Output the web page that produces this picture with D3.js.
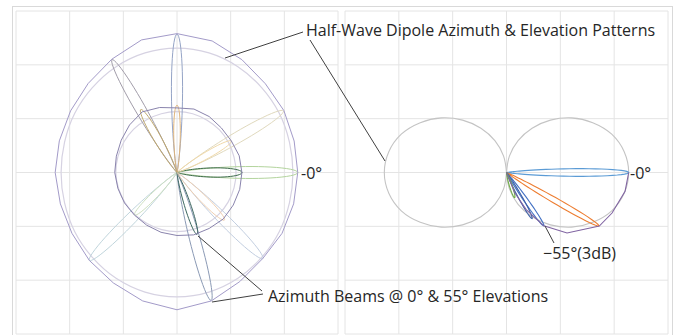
<!DOCTYPE html>
<html>
<head>
<meta charset="utf-8">
<script src="https://cdn.jsdelivr.net/npm/d3@7"></script>
<style>
  body { margin: 0; background: #fff; }
  svg { display: block; }
  text { font-family: "Open Sans", "Noto Sans", sans-serif; font-size: 16px; fill: #262626; }
</style>
</head>
<body>
<svg id="chart" width="681" height="335"></svg>
<script>
// ---------- data (radii in grid units) ----------
const gridTicks = [-3, -2, -1, 0, 1, 2, 3];

// Azimuth patterns, sampled every 15 degrees
const azAngles = [0, 15, 30, 45, 60, 75, 90, 105, 120, 135, 150, 165,
                  180, 195, 210, 225, 240, 255, 270, 285, 300, 315, 330, 345];
const azEnvelope0  = [2.25, 2.26, 2.30, 2.33, 2.42, 2.53, 2.58, 2.55, 2.43, 2.34, 2.29, 2.27,
                      2.27, 2.25, 2.26, 2.31, 2.37, 2.47, 2.55, 2.47, 2.34, 2.26, 2.26, 2.25];
const azDipole0    = [2.16, 2.17, 2.20, 2.23, 2.27, 2.30, 2.31, 2.30, 2.27, 2.23, 2.20, 2.17,
                      2.16, 2.17, 2.20, 2.23, 2.27, 2.30, 2.31, 2.30, 2.27, 2.23, 2.20, 2.17];
const azEnvelope55 = [1.21, 1.20, 1.17, 1.17, 1.20, 1.22, 1.20, 1.25, 1.30, 1.25, 1.20, 1.17,
                      1.16, 1.14, 1.13, 1.12, 1.13, 1.15, 1.17, 1.20, 1.20, 1.22, 1.21, 1.21];
const azDipole55   = [1.10, 1.10, 1.11, 1.12, 1.12, 1.13, 1.13, 1.13, 1.13, 1.14, 1.14, 1.14,
                      1.14, 1.13, 1.12, 1.11, 1.10, 1.10, 1.10, 1.10, 1.10, 1.10, 1.10, 1.10];

// Azimuth beams at 0 deg elevation
const beamAz0    = [0, 30, 90, 120, 225, 285, 315];
const beamLen0   = [2.25, 2.29, 2.57, 2.42, 2.31, 2.46, 2.26];
const beamWidth0 = [11, 10, 9, 9, 10, 9, 10];          // degrees
// Azimuth beams at 55 deg elevation
const beamAz55    = [0, 30, 90, 120, 225, 288, 315];
const beamLen55   = [1.21, 1.17, 1.25, 1.35, 1.12, 1.21, 1.25];
const beamWidth55 = [16, 12, 11, 12, 12, 11, 12];

// Half-wave dipole elevation pattern, 0..90 deg
const elevAngles = [0, 10, 20, 30, 40, 50, 60, 70, 80, 90];
const dipoleElev = [2.27, 2.22, 2.08, 1.85, 1.58, 1.27, 0.95, 0.63, 0.31, 0];

// Elevation beams
const elevBeamDeg   = [0, -30, -55, -61, -72];
const elevBeamLen   = [2.27, 1.98, 1.21, 0.98, 0.49];
const elevBeamWidth = [7, 6, 7, 8, 12];
// Elevation beam envelope
const elevEnvDeg = [0, -9, -21, -30, -45, -55, -62, -68, -90];
const elevEnvLen = [2.27, 2.23, 2.10, 1.99, 1.59, 1.21, 0.78, 0.40, 0];

// ---------- styles ----------
const beamColors0  = ["#b3d49d", "#e0d9bd", "#95a4c6", "#a19ca9", "#c0d5dc", "#8b9ab5", "#c2cee0"];
const beamColors55 = ["#3d6b4a", "#f1d9a9", "#dfb47a", "#bfa86c", "#cde0c1", "#3b665f", "#f0d0b2"];
const elevBeamColors = ["#5b9bd5", "#ed7d31", "#4472c4", "#3c5fa6", "#70ad47"];

const svg = d3.select("#chart");

// outer chart frame
svg.append("rect").attr("x", 12.5).attr("y", 6.5).attr("width", 660).attr("height", 340)
  .attr("fill", "none").attr("stroke", "#d9d9d9");

function makePanel(x0, x1, y0, y1) {
  const x = d3.scaleLinear().domain([-3, 3]).range([x0, x1]);
  const y = d3.scaleLinear().domain([-3, 3]).range([y1, y0]);
  const g = svg.append("g");
  g.selectAll("line.v").data(gridTicks).join("line")
    .attr("x1", d => x(d)).attr("x2", d => x(d)).attr("y1", y0).attr("y2", y1)
    .attr("stroke", "#e4e4e4");
  g.selectAll("line.h").data(gridTicks).join("line")
    .attr("y1", d => y(d)).attr("y2", d => y(d)).attr("x1", x0).attr("x2", x1)
    .attr("stroke", "#e4e4e4");
  return { x, y, g };
}

const rad = d => d * Math.PI / 180;
function polarPoints(angles, radii) {
  return angles.map((a, i) => [radii[i] * Math.cos(rad(a)), radii[i] * Math.sin(rad(a))]);
}
// beam lobe outline: r = L * cos(d)^n, n set from the beam width
function lobePoints(az, len, bw) {
  const h = rad(bw / 2);
  const n = 2 * Math.LN2 / (h * h);
  const pts = [[0, 0]];
  const steps = 80;
  for (let i = 0; i <= steps; i++) {
    const d = -3 * h + 6 * h * i / steps;
    const r = len * Math.pow(Math.cos(d), n);
    pts.push([r * Math.cos(rad(az) + d), r * Math.sin(rad(az) + d)]);
  }
  pts.push([0, 0]);
  return pts;
}

// ---------- left panel: azimuth ----------
const L = makePanel(16, 338, 11, 334);
const lineL = d3.line().x(d => L.x(d[0])).y(d => L.y(d[1]));

L.g.append("path").attr("d", lineL.curve(d3.curveCardinalClosed)(polarPoints(azAngles, azDipole0)))
  .attr("fill", "none").attr("stroke", "#d6d2e2").attr("stroke-width", 1.2);
L.g.append("path").attr("d", lineL.curve(d3.curveCardinalClosed)(polarPoints(azAngles, azDipole55)))
  .attr("fill", "none").attr("stroke", "#d6d2e2").attr("stroke-width", 1.2);

beamAz0.forEach((a, i) => {
  L.g.append("path").attr("d", lineL.curve(d3.curveLinear)(lobePoints(a, beamLen0[i], beamWidth0[i])))
    .attr("fill", "none").attr("stroke", beamColors0[i]).attr("stroke-width", 1);
});
beamAz55.forEach((a, i) => {
  L.g.append("path").attr("d", lineL.curve(d3.curveLinear)(lobePoints(a, beamLen55[i], beamWidth55[i])))
    .attr("fill", "none").attr("stroke", beamColors55[i]).attr("stroke-width", 1);
});

L.g.append("path").attr("d", lineL.curve(d3.curveLinearClosed)(polarPoints(azAngles, azEnvelope0)))
  .attr("fill", "none").attr("stroke", "#a39bc9").attr("stroke-width", 1);
L.g.append("path").attr("d", lineL.curve(d3.curveLinearClosed)(polarPoints(azAngles, azEnvelope55)))
  .attr("fill", "none").attr("stroke", "#8a84ad").attr("stroke-width", 1);

// ---------- right panel: elevation ----------
const R = makePanel(345, 668, 11, 334);
const lineR = d3.line().x(d => R.x(d[0])).y(d => R.y(d[1]));

// full dipole figure-eight from the 0..90 deg quarter (pattern is symmetric)
const rightLobeAng = [], rightLobeR = [], leftLobeAng = [], leftLobeR = [];
for (let i = elevAngles.length - 1; i >= 0; i--) { rightLobeAng.push(-elevAngles[i]); rightLobeR.push(dipoleElev[i]); }
for (let i = 1; i < elevAngles.length; i++) { rightLobeAng.push(elevAngles[i]); rightLobeR.push(dipoleElev[i]); }
rightLobeAng.forEach((a, i) => { leftLobeAng.push(180 - a); leftLobeR.push(rightLobeR[i]); });

[[rightLobeAng, rightLobeR], [leftLobeAng, leftLobeR]].forEach(([a, r]) => {
  R.g.append("path").attr("d", lineR.curve(d3.curveCatmullRom)(polarPoints(a, r)))
    .attr("fill", "none").attr("stroke", "#c4c4c4").attr("stroke-width", 1.1);
});

elevBeamDeg.forEach((a, i) => {
  R.g.append("path").attr("d", lineR.curve(d3.curveLinear)(lobePoints(a, elevBeamLen[i], elevBeamWidth[i])))
    .attr("fill", "none").attr("stroke", elevBeamColors[i]).attr("stroke-width", 1.1);
});
R.g.append("path").attr("d", lineR.curve(d3.curveLinear)(polarPoints(elevEnvDeg, elevEnvLen)))
  .attr("fill", "none").attr("stroke", "#8064a2").attr("stroke-width", 1.1);

// ---------- annotations ----------
const ann = svg.append("g");
const leaders = [
  [[303, 32], [225, 58]],
  [[310, 40], [385, 161]],
  [[554, 243], [545, 226]],
  [[262, 291], [198, 236]],
  [[263, 294], [212, 302]]
];
leaders.forEach(s => ann.append("line")
  .attr("x1", s[0][0]).attr("y1", s[0][1]).attr("x2", s[1][0]).attr("y2", s[1][1])
  .attr("stroke", "#404040").attr("stroke-width", 1));

ann.append("text").attr("x", 306).attr("y", 36).text("Half-Wave Dipole Azimuth & Elevation Patterns");
ann.append("text").attr("x", 301).attr("y", 179).text("-0°");
ann.append("text").attr("x", 630).attr("y", 179).text("-0°");
ann.append("text").attr("x", 543).attr("y", 259).text("\u221255°(3dB)");
ann.append("text").attr("x", 268).attr("y", 302).text("Azimuth Beams @ 0° & 55° Elevations");
</script>
</body>
</html>
